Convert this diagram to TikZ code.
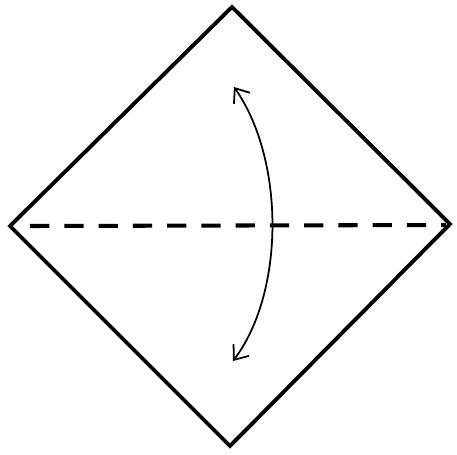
\documentclass[tikz,border=0pt]{standalone}
\usetikzlibrary{arrows.meta}
\tikzset{
  edge/.style={line width=2.2pt, line join=miter},
  foldline/.style={line width=2.3pt, dash pattern=on 11pt off 8.5pt},
  flip/.style={line width=1pt, {Straight Barb[length=7pt,width=11pt]}-{Straight Barb[length=7pt,width=11pt]}},
}
\begin{document}
\begin{tikzpicture}[x=0.02cm, y=-0.02cm]
  \useasboundingbox (0,0) rectangle (457,454);
  % corners of the square
  \coordinate (top) at (232,7);
  \coordinate (left) at (10,226);
  \coordinate (bottom) at (230,446);
  \coordinate (right) at (450,224);
  \draw[edge] (top) -- (right) -- (bottom) -- (left) -- cycle;
  % valley fold
  \coordinate (fl) at (30,226);
  \coordinate (fr) at (446,225);
  \draw[foldline] (fl) -- (fr);
  % fold up and unfold
  \coordinate (up) at (234,87);
  \coordinate (down) at (233,361);
  \draw[flip] (up) .. controls (285,160) and (285,292) .. (down);
\end{tikzpicture}
\end{document}
